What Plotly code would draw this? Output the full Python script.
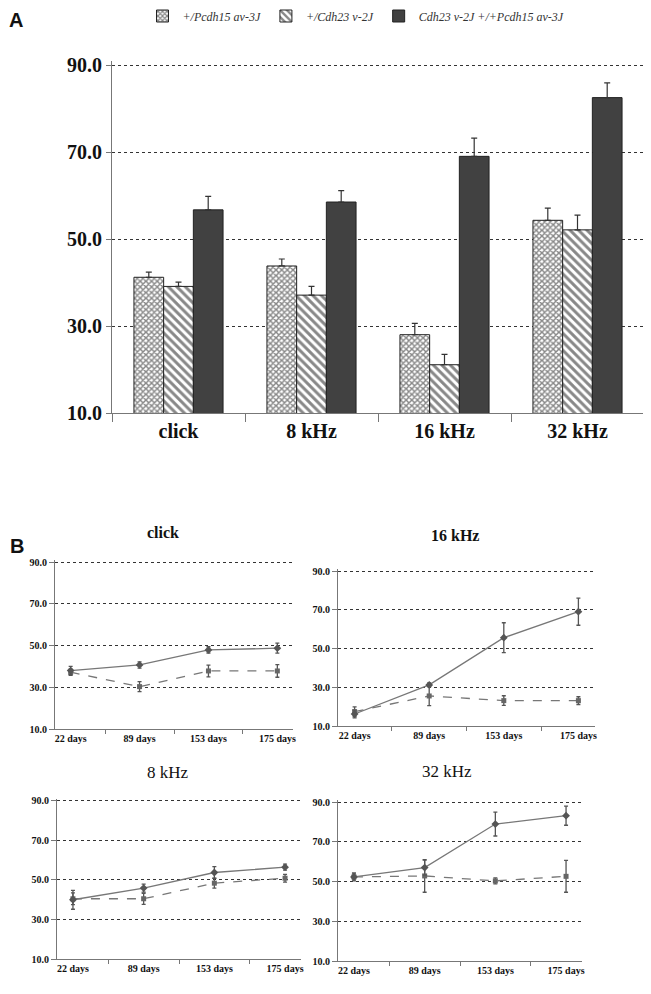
import plotly.graph_objects as go

W, H = 651, 994
# the page body adds an 8px margin around the figure; place everything relative to that
OFFX, OFFY = 8, 8

# ---------------- Panel A data ----------------
cats_a = ["click", "8 kHz", "16 kHz", "32 kHz"]
series_names = ["+/Pcdh15 av-3J", "+/Cdh23 v-2J", "Cdh23 v-2J +/+Pcdh15 av-3J"]
vals_pcdh15 = [41.2, 43.8, 28.0, 54.3]
err_pcdh15 = [1.2, 1.6, 2.6, 2.8]
vals_cdh23 = [39.1, 37.1, 21.1, 52.1]
err_cdh23 = [1.0, 2.0, 2.4, 3.4]
vals_double = [56.7, 58.5, 69.0, 82.5]
err_double = [3.1, 2.6, 4.2, 3.4]

# ---------------- Panel B data ----------------
days = ["22 days", "89 days", "153 days", "175 days"]
click_double = [38.0, 40.7, 47.9, 48.7]
click_double_err = [2.0, 1.5, 1.5, 2.4]
click_single = [37.2, 30.3, 37.8, 37.8]
click_single_err = [1.5, 2.4, 2.8, 3.0]

k16_double = [16.2, 31.2, 55.6, 69.0]
k16_double_err = [2.0, 1.0, 7.7, 7.0]
k16_single = [17.4, 25.5, 23.1, 23.1]
k16_single_err = [2.5, 5.0, 2.5, 2.0]

k8_double = [40.0, 45.9, 53.8, 56.5]
k8_double_err = [4.8, 2.0, 3.0, 1.5]
k8_single = [40.5, 40.5, 48.4, 50.9]
k8_single_err = [3.0, 2.8, 2.5, 2.0]

k32_double = [52.3, 57.0, 78.9, 83.1]
k32_double_err = [1.5, 3.8, 6.0, 4.8]
k32_single = [52.3, 52.8, 50.3, 52.6]
k32_single_err = [2.0, 8.2, 1.5, 8.0]

ytick_vals = [10, 30, 50, 70, 90]

SERIF = "Liberation Serif"
YMAX = 91.0


def px_x(x):
    return (x - OFFX) / W


def px_y(y):
    return 1 - (y - OFFY) / H


def xdom(left, right):
    return [px_x(left), px_x(right)]


def ydom(top90, bottom10):
    # pixel rows of the 90 and 10 gridlines -> domain with range [10, YMAX]
    ppu = (bottom10 - top90) / 80.0
    top = top90 - (YMAX - 90) * ppu
    return [px_y(bottom10), px_y(top)]


fig = go.Figure()

# ---------------- Panel A bars ----------------
fig.add_trace(go.Bar(
    x=cats_a, y=vals_pcdh15, name="<i>" + series_names[0] + "</i>",
    marker=dict(color="white", line=dict(color="#222", width=1),
                pattern=dict(shape="x", fgcolor="#111", bgcolor="white", size=4, solidity=0.6)),
    error_y=dict(type="data", symmetric=False, array=err_pcdh15, arrayminus=[0] * 4,
                 color="#333", thickness=1.2, width=3),
    xaxis="x", yaxis="y"))
fig.add_trace(go.Bar(
    x=cats_a, y=vals_cdh23, name="<i>" + series_names[1] + "</i>",
    marker=dict(color="white", line=dict(color="#222", width=1),
                pattern=dict(shape="\\", fgcolor="#111", bgcolor="white", size=6, solidity=0.5)),
    error_y=dict(type="data", symmetric=False, array=err_cdh23, arrayminus=[0] * 4,
                 color="#333", thickness=1.2, width=3),
    xaxis="x", yaxis="y"))
fig.add_trace(go.Bar(
    x=cats_a, y=vals_double, name="<i>" + series_names[2] + "</i>",
    marker=dict(color="#414141", line=dict(color="#222", width=1)),
    error_y=dict(type="data", symmetric=False, array=err_double, arrayminus=[0] * 4,
                 color="#333", thickness=1.2, width=3),
    xaxis="x", yaxis="y"))

# ---------------- Panel B lines ----------------
panels = [
    ("x2", "y2", click_double, click_double_err, click_single, click_single_err),
    ("x3", "y3", k16_double, k16_double_err, k16_single, k16_single_err),
    ("x4", "y4", k8_double, k8_double_err, k8_single, k8_single_err),
    ("x5", "y5", k32_double, k32_double_err, k32_single, k32_single_err),
]
for xa, ya, d, de, s, se in panels:
    fig.add_trace(go.Scatter(
        x=days, y=s, mode="lines+markers", showlegend=False,
        line=dict(color="#777", width=1.3, dash="dash"),
        marker=dict(symbol="square", size=5, color="#666"),
        error_y=dict(type="data", array=se, color="#555", thickness=1.3, width=2),
        xaxis=xa, yaxis=ya))
    fig.add_trace(go.Scatter(
        x=days, y=d, mode="lines+markers", showlegend=False,
        line=dict(color="#777", width=1.3),
        marker=dict(symbol="diamond", size=6, color="#555"),
        error_y=dict(type="data", array=de, color="#555", thickness=1.3, width=2),
        xaxis=xa, yaxis=ya))

# ---------------- Axes ----------------
def yaxis_cfg(dom, fsize, anchor):
    return dict(domain=dom, range=[10, YMAX], tickvals=ytick_vals, tickformat=".1f",
                showgrid=True, gridcolor="#333", griddash="3px,3px", gridwidth=1,
                showline=True, linecolor="#777", linewidth=1.2,
                ticks="outside", ticklen=5, tickcolor="#777",
                tickfont=dict(family=SERIF, size=fsize, color="#111", weight="bold"),
                zeroline=False, anchor=anchor, fixedrange=True, automargin=False)


def xaxis_cfg(dom, fsize, anchor, ticklen):
    return dict(domain=dom, type="category", showline=True, linecolor="#777", linewidth=1.2,
                ticks="outside", tickson="boundaries", ticklen=ticklen, tickcolor="#777",
                showgrid=False, tickfont=dict(family=SERIF, size=fsize, color="#111", weight="bold"),
                anchor=anchor, fixedrange=True, automargin=False)


layout = dict(
    width=W, height=H, margin=dict(l=0, r=0, t=0, b=0, pad=0, autoexpand=False),
    paper_bgcolor="white", plot_bgcolor="white",
    barmode="group", bargap=0.33, bargroupgap=0,
    showlegend=True,
    legend=dict(orientation="h", x=px_x(356), xanchor="center", y=px_y(16), yanchor="middle",
                font=dict(family=SERIF, size=12, color="#333"), itemwidth=30,
                bgcolor="rgba(0,0,0,0)", tracegroupgap=0),
    xaxis=xaxis_cfg(xdom(112, 644), 20, "y", 8),
    yaxis=yaxis_cfg(ydom(65, 413), 20, "x"),
    xaxis2=xaxis_cfg(xdom(55, 293), 10, "y2", 4),
    yaxis2=yaxis_cfg(ydom(562, 729), 10, "x2"),
    xaxis3=xaxis_cfg(xdom(338, 595), 10, "y3", 4),
    yaxis3=yaxis_cfg(ydom(571, 726), 10, "x3"),
    xaxis4=xaxis_cfg(xdom(57, 301), 10, "y4", 4),
    yaxis4=yaxis_cfg(ydom(801, 959), 10, "x4"),
    xaxis5=xaxis_cfg(xdom(338, 582), 10, "y5", 4),
    yaxis5=yaxis_cfg(ydom(802, 961), 10, "x5"),
)
fig.update_layout(**layout)

annots = [
    dict(text="<b>A</b>", x=px_x(16), y=px_y(20), font=dict(family="Liberation Sans", size=20, color="#111")),
    dict(text="<b>B</b>", x=px_x(17), y=px_y(546), font=dict(family="Liberation Sans", size=20, color="#111")),
    dict(text="<b>click</b>", x=px_x(163), y=px_y(532), font=dict(family=SERIF, size=16, color="#111")),
    dict(text="<b>16 kHz</b>", x=px_x(455), y=px_y(535), font=dict(family=SERIF, size=16, color="#111")),
    dict(text="8 kHz", x=px_x(168), y=px_y(772), font=dict(family=SERIF, size=17, color="#111")),
    dict(text="32 kHz", x=px_x(447), y=px_y(771), font=dict(family=SERIF, size=17, color="#111")),
]
for a in annots:
    fig.add_annotation(xref="paper", yref="paper", showarrow=False,
                       xanchor="center", yanchor="middle", **a)

fig.write_html("out.html")
